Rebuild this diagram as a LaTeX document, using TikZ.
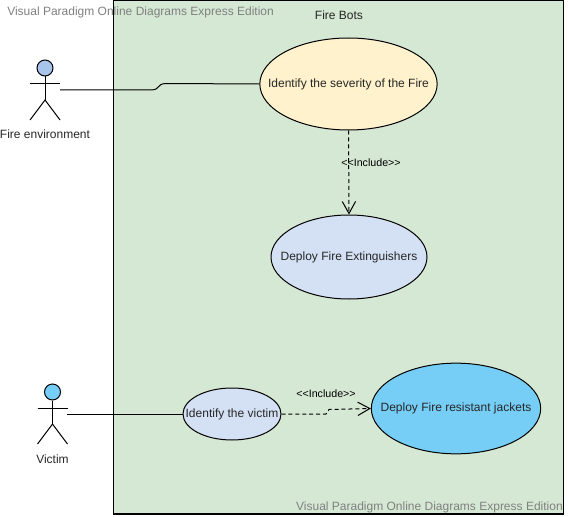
\documentclass[tikz,border=0pt]{standalone}
\usepackage{fontspec}
\setmainfont{Liberation Sans}
\usetikzlibrary{arrows.meta,shapes.geometric}
\definecolor{sysgreen}{HTML}{D5E8D4}
\definecolor{caseyellow}{HTML}{FFF2CC}
\definecolor{caseblue}{HTML}{D4E1F5}
\definecolor{casecyan}{HTML}{76CEF6}
\definecolor{headblue}{HTML}{A9C4EB}
\definecolor{markgray}{HTML}{808080}
\newcommand{\casetext}[1]{\makebox[0pt]{#1}}
\tikzset{
    usecase/.style={draw=black, ellipse, line width=0.75pt, inner sep=0pt, font=\fontsize{9}{11}\selectfont, text=black!85},
    lab/.style={font=\fontsize{9}{11}\selectfont, text=black!85, inner sep=0pt},
    inc/.style={font=\fontsize{8}{10}\selectfont, inner sep=0pt},
    wmark/.style={font=\fontsize{9}{11}\selectfont, text=markgray, inner sep=0pt},
    limb/.style={line width=0.75pt, color=black},
    dep/.style={line width=0.75pt, dash pattern=on 3pt off 2.2pt, -{Straight Barb[length=9pt,width=10pt,line width=0.75pt]}}
}
\begin{document}
\begin{tikzpicture}[x=0.75pt, y=-0.75pt]
    \useasboundingbox (0,0) rectangle (568,517);
    \draw[line width=0.9pt, fill=sysgreen] (113.5,0.5) rectangle (563.5,514);
    \node[lab] (title) at (339,15) {Fire Bots};
    % use cases
    \node[usecase, fill=caseyellow, minimum width=133pt, minimum height=69pt] (severity) at (348.5,84) {\casetext{Identify the severity of the Fire}};
    \node[usecase, fill=caseblue, minimum width=117pt, minimum height=63pt] (extinguish) at (349,257) {\casetext{Deploy Fire Extinguishers}};
    \node[usecase, fill=caseblue, minimum width=73.5pt, minimum height=39pt] (victimcase) at (232,414) {\casetext{Identify the victim}};
    \node[usecase, fill=casecyan, minimum width=127pt, minimum height=68pt] (jackets) at (456,408.5) {\casetext{Deploy Fire resistant jackets}};
    % actors
    \node[circle, draw=black, fill=headblue, line width=0.75pt, minimum size=12pt, inner sep=0pt] (envhead) at (45,68) {};
    \coordinate (envhip) at (45,100);
    \draw[limb] (envhead) -- (envhip);
    \draw[limb] (30,84) -- (60,84);
    \draw[limb] (30,120) -- (envhip) -- (60,120);
    \node[lab] (envlabel) at (45,134.5) {Fire environment};
    \node[circle, draw=black, fill=casecyan, line width=0.75pt, minimum size=12pt, inner sep=0pt] (vichead) at (52.5,392) {};
    \coordinate (vichip) at (52.5,424);
    \draw[limb] (vichead) -- (vichip);
    \draw[limb] (37.5,408) -- (67.5,408);
    \draw[limb] (37.5,444) -- (vichip) -- (67.5,444);
    \node[lab] (viclabel) at (52.5,459) {Victim};
    % connectors
    \coordinate (envhand) at (60,90);
    \coordinate (vichand) at (67,414);
    \draw[line width=0.75pt] (envhand) -- (150,90) .. controls (162,90) and (155,83.5) .. (167,83.5) -- (severity.west);
    \draw[line width=0.75pt] (vichand) -- (victimcase.west);
    \draw[dep] (severity.south) -- (extinguish.north);
    \draw[dep] (victimcase.east) -- (326,414) -- (329,409.5) -- (jackets.west);
    \node[inc] (inctop) at (371,163) {<{}<Include>{}>};
    \node[inc] (incbot) at (326,393.5) {<{}<Include>{}>};
    % watermarks
    \node[wmark, anchor=west] (marktop) at (7,12) {Visual Paradigm Online Diagrams Express Edition};
    \node[wmark, anchor=east] (markbot) at (563,507) {Visual Paradigm Online Diagrams Express Edition};
\end{tikzpicture}
\end{document}
